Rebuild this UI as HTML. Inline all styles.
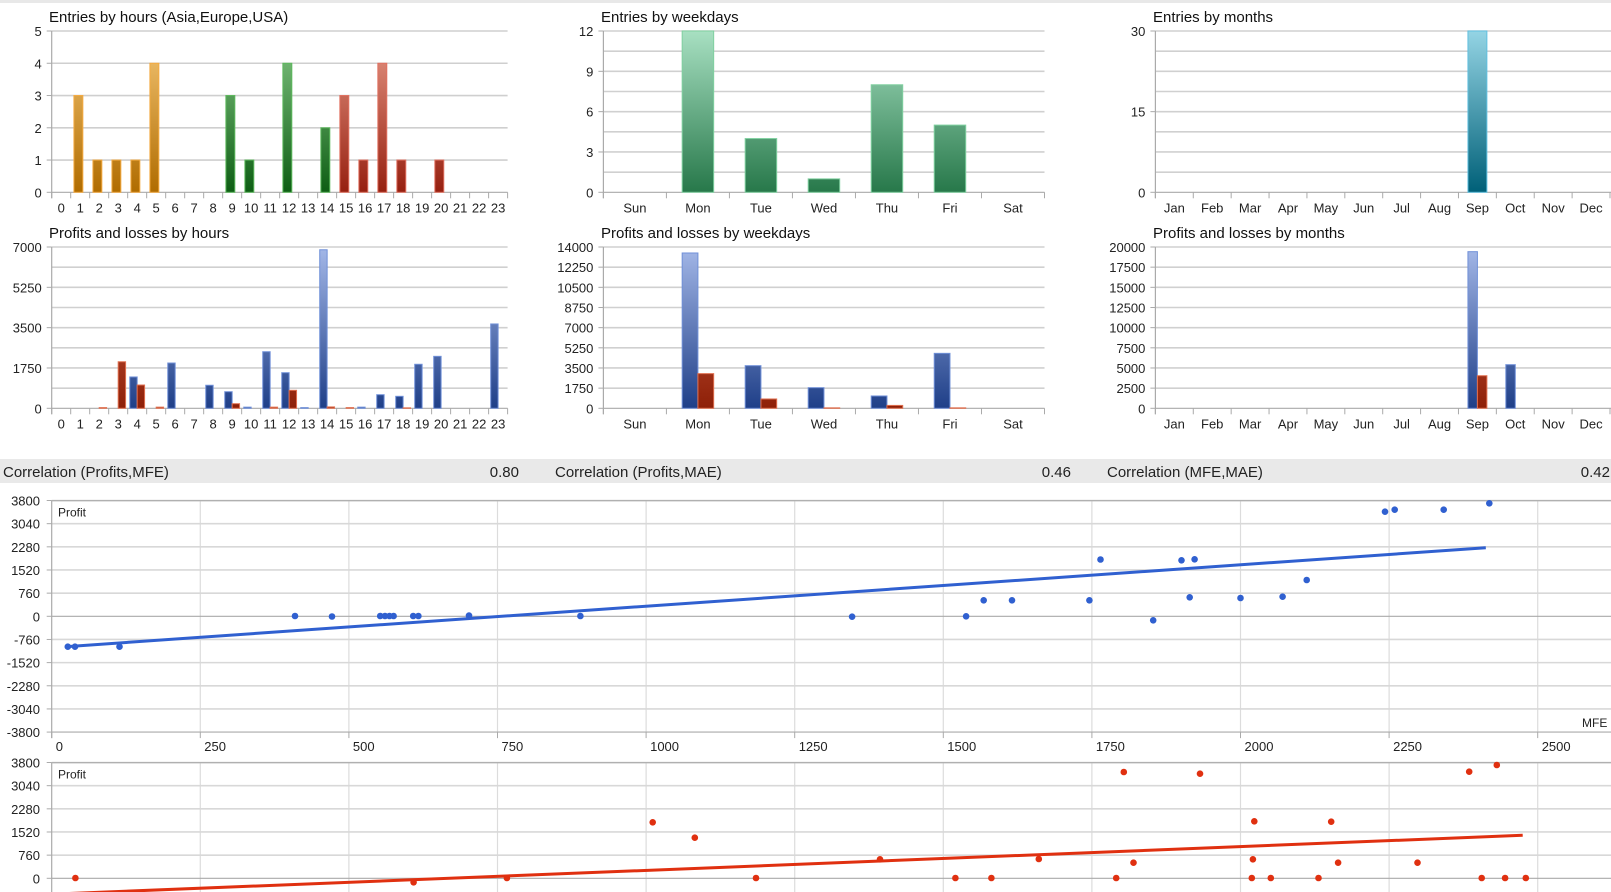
<!DOCTYPE html>
<html><head><meta charset="utf-8">
<style>
html,body{margin:0;padding:0;background:#fff;}
svg{display:block;font-family:"Liberation Sans",sans-serif;}
</style></head>
<body>
<svg id="s" width="1611" height="892" xmlns="http://www.w3.org/2000/svg">
<defs>
<linearGradient id="gOr" gradientUnits="userSpaceOnUse" x1="0" y1="31" x2="0" y2="192"><stop offset="0" stop-color="#f6c878"/><stop offset="1" stop-color="#b06c00"/></linearGradient>
<linearGradient id="gGr" gradientUnits="userSpaceOnUse" x1="0" y1="31" x2="0" y2="192"><stop offset="0" stop-color="#86c886"/><stop offset="1" stop-color="#0e5e14"/></linearGradient>
<linearGradient id="gRd" gradientUnits="userSpaceOnUse" x1="0" y1="31" x2="0" y2="192"><stop offset="0" stop-color="#e89a88"/><stop offset="1" stop-color="#962010"/></linearGradient>
<linearGradient id="gWk" gradientUnits="userSpaceOnUse" x1="0" y1="31" x2="0" y2="192"><stop offset="0" stop-color="#a8e0c2"/><stop offset="1" stop-color="#27784a"/></linearGradient>
<linearGradient id="gMo" gradientUnits="userSpaceOnUse" x1="0" y1="31" x2="0" y2="192"><stop offset="0" stop-color="#94d4e4"/><stop offset="1" stop-color="#006078"/></linearGradient>
<linearGradient id="gBl" gradientUnits="userSpaceOnUse" x1="0" y1="247" x2="0" y2="408"><stop offset="0" stop-color="#a4b8e8"/><stop offset="1" stop-color="#1f3f88"/></linearGradient>
<linearGradient id="gRr" gradientUnits="userSpaceOnUse" x1="0" y1="247" x2="0" y2="408"><stop offset="0" stop-color="#d86a50"/><stop offset="1" stop-color="#8e2008"/></linearGradient>
</defs>
<rect x="0" y="0" width="1611" height="3" fill="#e8e8e8"/>
<rect x="0" y="459" width="1611" height="24" fill="#e9e9e9"/>
<g font-size="15" fill="#222">
<text x="3" y="477">Correlation (Profits,MFE)</text>
<text x="519" y="477" text-anchor="end">0.80</text>
<text x="555" y="477">Correlation (Profits,MAE)</text>
<text x="1071" y="477" text-anchor="end">0.46</text>
<text x="1107" y="477">Correlation (MFE,MAE)</text>
<text x="1610" y="477" text-anchor="end">0.42</text>
</g>
<g id="g"></g>
</svg>
<script>
var G=document.getElementById('g'),out='';
function L(x1,y1,x2,y2,c,w){out+='<line x1="'+x1+'" y1="'+y1+'" x2="'+x2+'" y2="'+y2+'" stroke="'+c+'" stroke-width="'+(w||1)+'"/>';}
function T(x,y,s,a,fs,c){out+='<text x="'+x+'" y="'+y+'" font-size="'+(fs||13)+'" fill="'+(c||'#222')+'" text-anchor="'+(a||'start')+'">'+s+'</text>';}
function R(x,y,w,h,f,st){out+='<rect x="'+x+'" y="'+y+'" width="'+w+'" height="'+h+'" fill="'+f+'" stroke="'+st+'" stroke-width="1"/>';}
function chart(o){
 var top=o.top,bot=o.bot,ax=o.ax,rt=o.rt,n=o.cats.length,cw=(o.catEnd-ax)/n,max=o.max;
 T(o.tx,top-9,o.title,'start',15,'#111');
 for(var i=0;i<=8;i++){var y=bot-(bot-top)*i/8;L(ax,y,rt,y,i==0?'#aaa':'#d0d0d0',i==0?1.2:1.6);}
 L(ax,top,ax,bot+6,'#aaa',1.2);
 for(var j=0;j<o.labels.length;j++){var v=o.labels[j],y=bot-(bot-top)*v/max;T(ax-10,y+5,String(v),'end',13);L(ax-5,y,ax,y,'#aaa',1);}
 for(var k=0;k<=n;k++){var x=ax+cw*k;L(x,bot,x,bot+6,'#aaa',1);}
 for(var k=0;k<n;k++){T(ax+cw*k+cw/2,bot+20,o.cats[k],'middle',13);}
 var sc=(bot-top)/max;
 (o.bars||[]).forEach(function(b){var h=b[1]*sc;var x=ax+cw*b[0];
   if(o.pair){var bw=cw*o.bw; var x0=x+(cw-2*bw)/2; if(b[3]=='r')x0+=bw; R(x0,bot-h,bw,h,b[2],b[3]=='r'?'#e07050':'#7090d8');}
   else{var bw=cw*o.bw;R(x+(cw-bw)/2-o.sh,bot-h,bw,h,b[2],o.st);}
 });
}
var H=[];for(var i=0;i<24;i++)H.push(i);
var D=['Sun','Mon','Tue','Wed','Thu','Fri','Sat'];
var M=['Jan','Feb','Mar','Apr','May','Jun','Jul','Aug','Sep','Oct','Nov','Dec'];
// entries by hours
var eb=[[1,3,'o'],[2,1,'o'],[3,1,'o'],[4,1,'o'],[5,4,'o'],[9,3,'g'],[10,1,'g'],[12,4,'g'],[14,2,'g'],[15,3,'r'],[16,1,'r'],[17,4,'r'],[18,1,'r'],[20,1,'r']];
var ob={top:31,bot:192.3,ax:51.7,rt:507.6,catEnd:507.6,cats:H,max:5,labels:[0,1,2,3,4,5],title:'Entries by hours (Asia,Europe,USA)',tx:49,bw:0.48,sh:1.5,st:'none',bars:[]};
// custom gridlines: 5 divisions
(function(){var o=ob,top=o.top,bot=o.bot,ax=o.ax,rt=o.rt,cw=(rt-ax)/24,sc=(bot-top)/5;
 T(o.tx,top-9,o.title,'start',15,'#111');
 for(var i=0;i<=5;i++){var y=bot-sc*i;L(ax,y,rt,y,i==0?'#aaa':'#cfcfcf',i==0?1.2:1.6);T(ax-10,y+5,String(i),'end',13);L(ax-5,y,ax,y,'#aaa',1);}
 L(ax,top,ax,bot+6,'#aaa',1.2);
 for(var k=0;k<=24;k++){var x=ax+cw*k;L(x,bot,x,bot+6,'#aaa',1);}
 for(var k=0;k<24;k++)T(ax+cw*k+cw/2,bot+20,String(k),'middle',13);
 eb.forEach(function(b){var f={o:['url(#gOr)','#f4aa40'],g:['url(#gGr)','#5cb85c'],r:['url(#gRd)','#e07060']}[b[2]];var h=b[1]*sc;R(ax+cw*b[0]+cw*0.17,bot-h,cw*0.47,h,f[0],f[1]);});
})();
// profits by hours
var pb=[[2,30,'r'],[3,2020,'r'],[4,1360,'b'],[4,1010,'r'],[5,50,'r'],[6,1965,'b'],[8,1000,'b'],[9,720,'b'],[9,200,'r'],[10,50,'b'],[11,2455,'b'],[11,50,'r'],[12,1545,'b'],[12,780,'r'],[13,30,'b'],[14,6880,'b'],[14,60,'r'],[15,30,'r'],[16,50,'b'],[17,590,'b'],[18,520,'b'],[18,20,'r'],[19,1910,'b'],[20,2255,'b'],[23,3660,'b']];
function pbars(a){return a.map(function(b){return [b[0],b[1],b[2]=='b'?'url(#gBl)':'url(#gRr)',b[2]=='b'?'b':'r'];});}
chart({top:247,bot:408.3,ax:51.7,rt:507.6,catEnd:507.6,cats:H,max:7000,labels:[0,1750,3500,5250,7000],title:'Profits and losses by hours',tx:49,pair:true,bw:0.39,bars:pbars(pb)});
// weekdays entries
chart({top:31,bot:192.3,ax:603.4,rt:1044.5,catEnd:1044.5,cats:D,max:12,labels:[0,3,6,9,12],title:'Entries by weekdays',tx:601,bw:0.5,sh:0,st:'#80d0a0',bars:[[1,12,'url(#gWk)'],[2,4,'url(#gWk)'],[3,1,'url(#gWk)'],[4,8,'url(#gWk)'],[5,5,'url(#gWk)']]});
chart({top:247,bot:408.3,ax:603.4,rt:1044.5,catEnd:1044.5,cats:D,max:14000,labels:[0,1750,3500,5250,7000,8750,10500,12250,14000],title:'Profits and losses by weekdays',tx:601,pair:true,bw:0.25,bars:pbars([[1,13480,'b'],[1,3010,'r'],[2,3700,'b'],[2,810,'r'],[3,1790,'b'],[3,40,'r'],[4,1070,'b'],[4,250,'r'],[5,4770,'b'],[5,40,'r']])});
// months
chart({top:31,bot:192.3,ax:1155.4,rt:1611,catEnd:1610,cats:M,max:30,labels:[0,15,30],title:'Entries by months',tx:1153,bw:0.5,sh:0,st:'#60c0e0',bars:[[8,30,'url(#gMo)']]});
chart({top:247,bot:408.3,ax:1155.4,rt:1611,catEnd:1610,cats:M,max:20000,labels:[0,2500,5000,7500,10000,12500,15000,17500,20000],title:'Profits and losses by months',tx:1153,pair:true,bw:0.25,bars:pbars([[8,19420,'b'],[8,4040,'r'],[9,5410,'b']])});
// scatter
function scatter(top,zero,pts,col,line,showX){
 var ax=51.7,ppu=0.03047,xs=0.5944;
 var bot=zero+3800*ppu;
 for(var v=250;v<=2750;v+=250){var x=ax+v*xs;if(x<1611)L(x,top,x,Math.min(bot,892),'#dcdcdc',1.2);}
 for(var i=-5;i<=5;i++){var y=zero-i*760*ppu;if(y>892)continue;L(ax,y,1611,y,(i==0||i==-5)?'#aaa':'#d8d8d8',(i==0||i==-5)?1.2:1.6);T(40,y+5,String(i*760),'end',13);L(ax-5,y,ax,y,'#aaa',1);}
 L(ax,top,1611,top,'#aaa',1.2);
 L(ax,top,ax,Math.min(bot+6,892),'#aaa',1.2);
 T(58,top+16,'Profit','start',12,'#222');
 if(showX){for(var v=0;v<=2500;v+=250){var x=ax+v*xs;L(x,bot,x,bot+6,'#aaa',1);T(x+4,bot+19,String(v),'start',13);}T(1582,bot-5,'MFE','start',12,'#222');}
 out+='<line x1="'+line[0]+'" y1="'+line[1]+'" x2="'+line[2]+'" y2="'+line[3]+'" stroke="'+col+'" stroke-width="3"/>';
 pts.forEach(function(p){out+='<circle cx="'+p[0]+'" cy="'+p[1]+'" r="3.3" fill="'+col+'"/>';});
}
var bp=[[67.8,646.7],[75,646.7],[119.5,646.7],[295,616],[332,616.5],[380.2,616],[385,616],[389.5,616],[393.6,616],[413.2,616],[418.4,616],[469,615.6],[580.4,616],[852.1,616.7],[966.1,616.3],[983.7,600.3],[1012,600.3],[1089.4,600.3],[1100.5,559.5],[1153.2,620.3],[1181.5,560.3],[1189.7,597.3],[1194.6,559.3],[1240.5,598],[1282.6,596.7],[1306.7,580],[1385,511.7],[1394.7,509.7],[1443.7,509.7],[1489.3,503.3]];
scatter(500.7,616.3,bp,'#3060d0',[65.4,646.7,1485.8,547.7],true);
var rp=[[75.4,878],[413.6,882.3],[506.9,878],[652.7,822.3],[694.8,837.7],[756,878],[880,859.3],[955.4,878],[991.4,878],[1038.8,859],[1116.2,878],[1123.8,772],[1133.5,862.7],[1200,773.7],[1251.8,878],[1252.9,859.3],[1254.3,821.3],[1270.8,878],[1318.5,878],[1331.2,821.7],[1338.1,862.7],[1417.5,862.7],[1469.2,771.7],[1481.7,878],[1496.8,765],[1505.1,878],[1525.8,878]];
scatter(762.7,878.3,rp,'#e03010',[51.7,894.2,1522.7,835.3],false);
G.innerHTML=out;
</script>
</body></html>
